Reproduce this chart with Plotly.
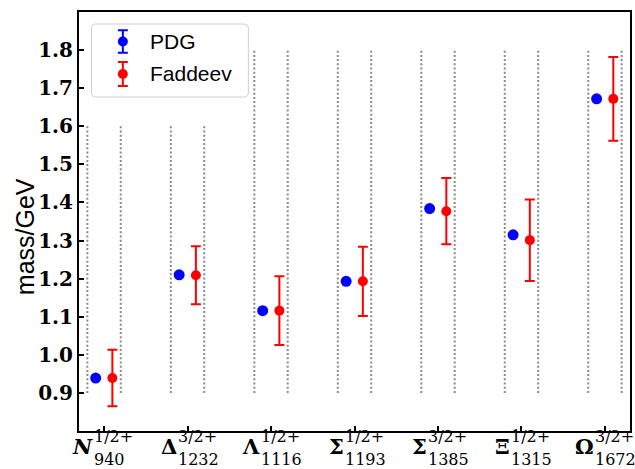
import plotly.graph_objects as go

# ---------------- data ----------------
symbols = ["N", "Δ", "Λ", "Σ", "Σ", "Ξ", "Ω"]
spins = ["1/2+", "3/2+", "1/2+", "1/2+", "3/2+", "1/2+", "3/2+"]
mass_labels = ["940", "1232", "1116", "1193", "1385", "1315", "1672"]
pdg = [0.939, 1.210, 1.116, 1.193, 1.384, 1.315, 1.672]
faddeev = [0.939, 1.209, 1.116, 1.193, 1.377, 1.301, 1.672]
faddeev_err = [0.074, 0.076, 0.090, 0.091, 0.087, 0.107, 0.110]
guide_tops = [1.6, 1.6, 1.8, 1.8, 1.8, 1.8, 1.8]
guide_bottom = 0.9
y_ticks = [0.9, 1.0, 1.1, 1.2, 1.3, 1.4, 1.5, 1.6, 1.7, 1.8]

# ---------------- layout geometry ----------------
W, H = 635, 469
ML, MR, MT, MB = 79, 3, 12, 38
PW, PH = W - ML - MR, H - MT - MB


def px_x(p):
    return (p - ML) / PW


def px_y(p):
    return (H - MB - p) / PH


idx = list(range(len(symbols)))
x_pdg = [i - 0.1 for i in idx]
x_fad = [i + 0.1 for i in idx]

fig = go.Figure()

fig.add_trace(go.Scatter(
    x=x_pdg, y=pdg, mode="markers", name="PDG",
    marker=dict(color="#0000ff", size=11, line=dict(width=0)),
    showlegend=False, cliponaxis=False,
))
fig.add_trace(go.Scatter(
    x=x_fad, y=faddeev, mode="markers", name="Faddeev",
    marker=dict(color="#ff0000", size=10, line=dict(width=0)),
    error_y=dict(type="data", array=faddeev_err, color="#ff0000",
                 thickness=2, width=5),
    showlegend=False, cliponaxis=False,
))

# dotted guide lines
shapes = []
for i, top in zip(idx, guide_tops):
    for off in (-0.2, 0.2):
        shapes.append(dict(
            type="line", xref="x", yref="y", x0=i + off, x1=i + off,
            y0=guide_bottom, y1=top, layer="below",
            line=dict(color="#8a8a8a", width=2, dash="2px,2.2px"),
        ))

# legend box (rounded)
lx0, lx1, ly0, ly1 = 91.5, 249, 24, 97
r = 4
path = (
    f"M {px_x(lx0 + r)},{px_y(ly0)} L {px_x(lx1 - r)},{px_y(ly0)} "
    f"Q {px_x(lx1)},{px_y(ly0)} {px_x(lx1)},{px_y(ly0 + r)} "
    f"L {px_x(lx1)},{px_y(ly1 - r)} "
    f"Q {px_x(lx1)},{px_y(ly1)} {px_x(lx1 - r)},{px_y(ly1)} "
    f"L {px_x(lx0 + r)},{px_y(ly1)} "
    f"Q {px_x(lx0)},{px_y(ly1)} {px_x(lx0)},{px_y(ly1 - r)} "
    f"L {px_x(lx0)},{px_y(ly0 + r)} "
    f"Q {px_x(lx0)},{px_y(ly0)} {px_x(lx0 + r)},{px_y(ly0)} Z"
)
shapes.append(dict(type="path", xref="paper", yref="paper", path=path,
                   fillcolor="white",
                   line=dict(color="#d0d0d0", width=1), layer="below"))

# legend icons on an overlay axis in paper-like units
fig.add_trace(go.Scatter(
    x=[px_x(123)], y=[px_y(41.5)], mode="markers", xaxis="x2", yaxis="y2",
    marker=dict(color="#0000ff", size=10),
    error_y=dict(type="data", array=[11.3 / PH], color="#0000ff",
                 thickness=2, width=5),
    showlegend=False, cliponaxis=False,
))
fig.add_trace(go.Scatter(
    x=[px_x(123)], y=[px_y(74)], mode="markers", xaxis="x2", yaxis="y2",
    marker=dict(color="#ff0000", size=10),
    error_y=dict(type="data", array=[12 / PH], color="#ff0000",
                 thickness=2, width=5),
    showlegend=False, cliponaxis=False,
))

annotations = []
leg_font = dict(family="Liberation Sans", size=21, color="black")
for name, yy in (("PDG", 41.5), ("Faddeev", 74)):
    annotations.append(dict(
        text=name, xref="paper", yref="paper", x=px_x(148), y=px_y(yy),
        xanchor="left", yanchor="middle", showarrow=False, font=leg_font,
    ))

# x tick labels: symbol with stacked super/subscripts
sym_font = dict(family="DejaVu Serif", size=21, color="black", weight="bold")
scr_font = dict(family="DejaVu Serif", size=16, color="black")
for i, s, sp, m in zip(idx, symbols, spins, mass_labels):
    txt = f"<i>{s}</i>" if s == "N" else s
    annotations.append(dict(
        text=txt, xref="x", yref="paper", x=i, y=0, xanchor="right",
        yanchor="middle", xshift=-9, yshift=-15, showarrow=False,
        font=sym_font,
    ))
    annotations.append(dict(
        text=sp, xref="x", yref="paper", x=i, y=0, xanchor="left",
        yanchor="middle", xshift=-12, yshift=-5, showarrow=False,
        font=scr_font,
    ))
    annotations.append(dict(
        text=m, xref="x", yref="paper", x=i, y=0, xanchor="left",
        yanchor="middle", xshift=-12, yshift=-28, showarrow=False,
        font=scr_font,
    ))

# y-axis title
annotations.append(dict(
    text="mass/GeV", xref="paper", yref="paper", x=px_x(25), y=px_y(237),
    xanchor="center", yanchor="middle", textangle=-90, showarrow=False,
    font=dict(family="Liberation Sans", size=25, color="black"),
))

fig.update_layout(
    width=W, height=H,
    margin=dict(l=ML, r=MR, t=MT, b=MB),
    paper_bgcolor="white", plot_bgcolor="white",
    shapes=shapes, annotations=annotations,
    xaxis=dict(
        range=[-0.3, 6.3], tickvals=idx, ticktext=[""] * len(idx),
        ticks="inside", ticklen=5, tickwidth=1.5, tickcolor="black",
        showline=True, linecolor="black", linewidth=2, mirror=True,
        showgrid=False, zeroline=False,
    ),
    yaxis=dict(
        range=[0.8, 1.9], tickvals=y_ticks,
        ticktext=[f"{v:.1f}" for v in y_ticks],
        ticks="inside", ticklen=5, tickwidth=1.5, tickcolor="black",
        showline=True, linecolor="black", linewidth=2, mirror=True,
        showgrid=False, zeroline=False,
        tickfont=dict(family="DejaVu Serif", size=20, color="black",
                      weight="bold"),
    ),
    xaxis2=dict(overlaying="x", range=[0, 1], visible=False, anchor="y2"),
    yaxis2=dict(overlaying="y", range=[0, 1], visible=False, anchor="x2"),
    font=dict(family="DejaVu Serif", color="black"),
)

fig.write_html("out.html")
